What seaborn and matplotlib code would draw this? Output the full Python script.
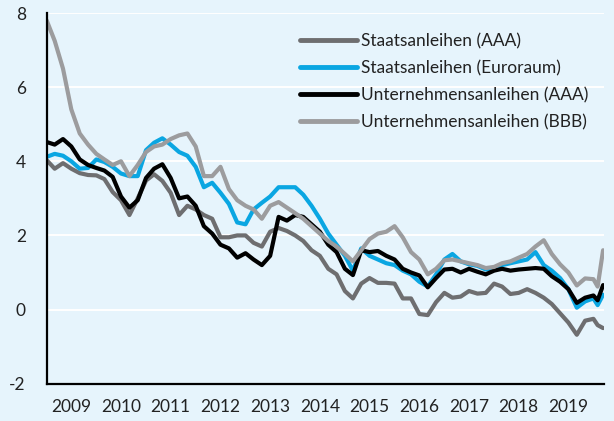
import matplotlib
matplotlib.use("Agg")
import matplotlib.pyplot as plt
import matplotlib.dates as mdates
from matplotlib.ticker import NullFormatter
import seaborn as sns
import pandas as pd

# bi-monthly readings Jan 2009 .. Jan 2020, then Feb 2020 and mid-Mar 2020
dates = list(pd.date_range("2009-01-01", "2020-01-01", freq="2MS")) + [pd.Timestamp("2020-02-01"), pd.Timestamp("2020-03-12")]

staats_aaa = [4.03, 3.8, 3.95, 3.8, 3.68, 3.63, 3.62, 3.52, 3.17, 2.95, 2.55, 3.0,
              3.48, 3.65, 3.47, 3.15, 2.55, 2.8, 2.7, 2.55, 2.45, 1.95, 1.95, 2.0,
              2.0, 1.8, 1.7, 2.1, 2.2, 2.12, 2.0, 1.85, 1.6, 1.45, 1.1, 0.95,
              0.5, 0.3, 0.7, 0.85, 0.72, 0.72, 0.7, 0.3, 0.3, -0.12, -0.15, 0.2,
              0.45, 0.32, 0.35, 0.5, 0.43, 0.45, 0.7, 0.62, 0.42, 0.45, 0.55, 0.45,
              0.32, 0.15, -0.1, -0.35, -0.68, -0.3, -0.25, -0.42, -0.5]
staats_euro = [4.12, 4.2, 4.15, 4.0, 3.8, 3.82, 4.05, 3.98, 3.85, 3.67, 3.6, 3.6,
               4.3, 4.5, 4.62, 4.45, 4.25, 4.15, 3.85, 3.3, 3.42, 3.15, 2.85, 2.35,
               2.3, 2.7, 2.88, 3.05, 3.3, 3.3, 3.3, 3.1, 2.8, 2.45, 2.05, 1.75,
               1.45, 1.05, 1.65, 1.45, 1.35, 1.25, 1.2, 1.05, 0.95, 0.75, 0.62, 0.95,
               1.35, 1.5, 1.3, 1.22, 1.18, 1.08, 1.1, 1.2, 1.25, 1.3, 1.35, 1.55,
               1.2, 1.05, 0.85, 0.55, 0.05, 0.22, 0.3, 0.12, 0.4]
unt_aaa = [4.52, 4.45, 4.6, 4.4, 4.05, 3.9, 3.82, 3.75, 3.58, 3.05, 2.75, 2.95,
           3.55, 3.8, 3.92, 3.55, 3.0, 3.05, 2.8, 2.25, 2.05, 1.75, 1.65, 1.4,
           1.52, 1.35, 1.2, 1.45, 2.5, 2.4, 2.55, 2.5, 2.3, 2.1, 1.75, 1.55,
           1.1, 0.93, 1.6, 1.55, 1.58, 1.45, 1.35, 1.1, 1.0, 0.92, 0.6, 0.85,
           1.08, 1.1, 1.0, 1.1, 1.02, 0.95, 1.05, 1.1, 1.05, 1.08, 1.1, 1.12,
           1.1, 0.9, 0.75, 0.55, 0.18, 0.32, 0.38, 0.25, 0.66]
unt_bbb = [7.8, 7.25, 6.5, 5.4, 4.75, 4.45, 4.2, 4.05, 3.9, 4.0, 3.6, 3.9,
           4.25, 4.4, 4.45, 4.6, 4.7, 4.75, 4.4, 3.6, 3.6, 3.85, 3.25, 2.95,
           2.8, 2.7, 2.45, 2.8, 2.9, 2.75, 2.6, 2.45, 2.25, 2.05, 1.85, 1.7,
           1.5, 1.3, 1.6, 1.9, 2.05, 2.1, 2.25, 1.95, 1.55, 1.35, 0.95, 1.1,
           1.33, 1.35, 1.3, 1.25, 1.2, 1.12, 1.15, 1.25, 1.3, 1.4, 1.5, 1.7,
           1.87, 1.5, 1.22, 1.0, 0.65, 0.84, 0.82, 0.62, 1.6]

names = ["Staatsanleihen (AAA)", "Staatsanleihen (Euroraum)",
         "Unternehmensanleihen (AAA)", "Unternehmensanleihen (BBB)"]
colors = ["#6e6e70", "#0aa6e2", "#000000", "#9c9c9e"]

frames = []
for name, vals in zip(names, [staats_aaa, staats_euro, unt_aaa, unt_bbb]):
    frames.append(pd.DataFrame({"date": dates, "value": vals, "serie": name}))
df = pd.concat(frames, ignore_index=True)

bg = "#e6f4fc"
sns.set_style("white", {"axes.facecolor": bg, "figure.facecolor": bg})
plt.rcParams["font.family"] = ["Lato", "DejaVu Sans"]
plt.rcParams["axes.unicode_minus"] = False

fig = plt.figure(figsize=(6.14, 4.21), dpi=100)
ax = fig.add_axes([0.076, 0.0886, 0.908, 0.8805])

sns.lineplot(data=df, x="date", y="value", hue="serie", hue_order=names,
             palette=colors, linewidth=3, ax=ax)

ax.set_ylim(-2, 8)
ax.set_yticks([-2, 0, 2, 4, 6, 8])
ax.set_xlim(pd.Timestamp("2009-01-01"), pd.Timestamp("2020-03-20"))
ax.xaxis.set_major_locator(mdates.YearLocator())
ax.xaxis.set_major_formatter(NullFormatter())
ax.xaxis.set_minor_locator(mdates.MonthLocator(bymonth=7, bymonthday=1))
ax.xaxis.set_minor_formatter(mdates.DateFormatter("%Y"))
ax.tick_params(axis="x", which="minor", length=0, pad=11, labelsize=12.5, colors="#222222")
ax.tick_params(axis="x", which="major", direction="inout", length=8, width=1.6, color="black")
ax.tick_params(axis="y", direction="inout", length=8, width=1.6, color="black",
               pad=11, labelsize=12.5, labelcolor="#222222")

ax.grid(axis="y", color="white", linewidth=1.4)
ax.grid(axis="x", visible=False)
ax.set_axisbelow(True)
for side in ["top", "right"]:
    ax.spines[side].set_visible(False)
for side in ["left", "bottom"]:
    ax.spines[side].set_color("black")
    ax.spines[side].set_linewidth(1.6)
ax.set_xlabel("")
ax.set_ylabel("")

leg = ax.legend(loc="upper left", bbox_to_anchor=(0.4545, 0.945), frameon=False,
                fontsize=12.5, handlelength=3.3, handletextpad=0.2,
                labelspacing=0.62, borderpad=0, borderaxespad=0)
for line in leg.get_lines():
    line.set_linewidth(3.5)
    line.set_solid_capstyle("round")
for t in leg.get_texts():
    t.set_color("#222222")

fig.savefig("out.png", dpi=100, facecolor=bg)
